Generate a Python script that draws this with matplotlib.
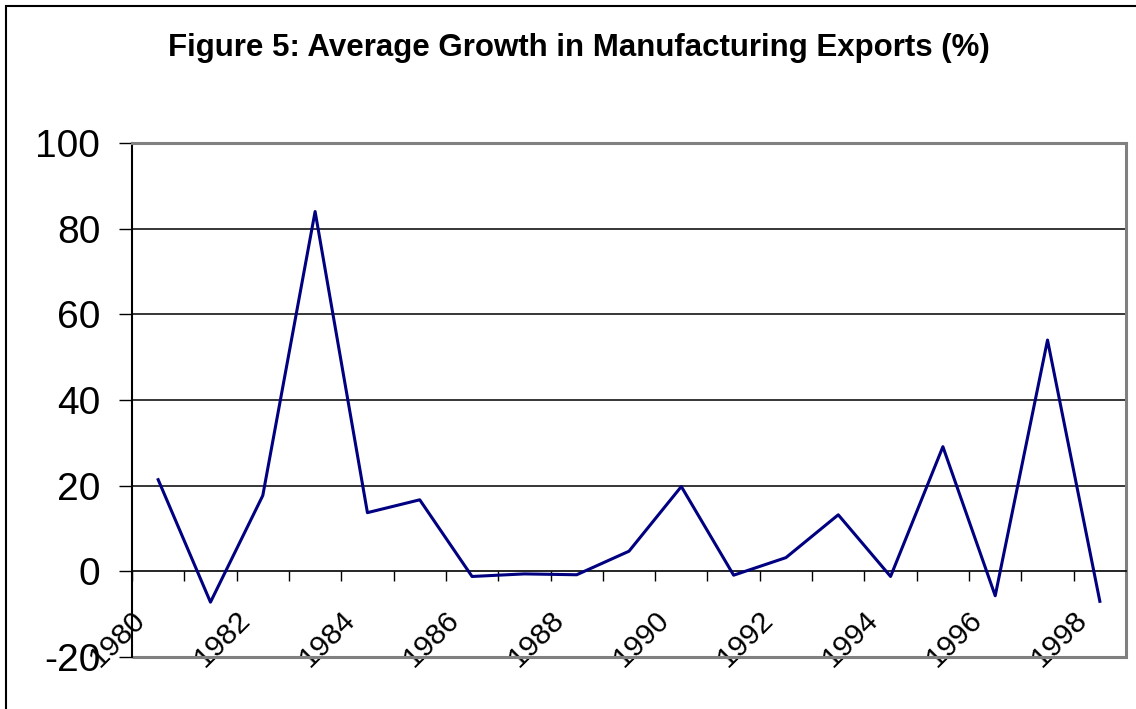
import numpy as np
import matplotlib.pyplot as plt
from matplotlib.patches import Rectangle
from matplotlib.transforms import ScaledTranslation

plt.rcParams["font.family"] = ["Liberation Sans", "DejaVu Sans"]

# =====================================================
# DATA
# =====================================================

years = list(range(1980, 1999))
growth = [21.4, -7.2, 17.7, 84.0, 13.7, 16.7, -1.2, -0.6, -0.8, 4.7,
          19.8, -0.9, 3.2, 13.2, -1.2, 29.1, -5.7, 54.0, -7.0]
y_ticks = [-20, 0, 20, 40, 60, 80, 100]
label_years = years[::2]

# =====================================================
# FIGURE
# =====================================================

W, H, DPI = 1136, 709, 100
fig = plt.figure(figsize=(W / DPI, H / DPI), dpi=DPI)

# chart-area border (right and bottom edges run off the page)
fig.patches.append(
    Rectangle(
        (6 / W, -0.1),
        1.2,
        (H - 6) / H + 0.1,
        transform=fig.transFigure,
        fill=False,
        edgecolor="black",
        linewidth=1.5,
    )
)

ax = fig.add_axes([132 / W, (H - 657) / H, (1126 - 132) / W, (657 - 143) / H])

n = len(years)
x = np.arange(n) + 0.5

ax.plot(x, growth, color="#000080", linewidth=2.2, zorder=4, clip_on=False)

ax.set_xlim(0, n)
ax.set_ylim(-20, 100)

# gridlines
for v in y_ticks[2:-1]:
    ax.axhline(v, color="black", linewidth=1.1, zorder=1)

# plot-area frame in grey
for side in ["top", "right"]:
    ax.spines[side].set_color("#808080")
    ax.spines[side].set_linewidth(2.2)
ax.add_patch(
    Rectangle((0, 0), 1, 0, transform=ax.transAxes, fill=False,
              edgecolor="#808080", linewidth=2.2, clip_on=False, zorder=2)
)

ax.spines["left"].set_color("black")
ax.spines["left"].set_linewidth(1.5)
ax.spines["bottom"].set_position(("data", 0))
ax.spines["bottom"].set_color("black")
ax.spines["bottom"].set_linewidth(1.2)
ax.spines["bottom"].set_zorder(3)

# value axis
ax.set_yticks(y_ticks)
ax.set_yticklabels([str(v) for v in y_ticks])
ax.tick_params(axis="y", direction="out", length=9.4, width=1.0,
               pad=13.5, labelsize=28)

# category axis: ticks between categories, labels every other year
ax.set_xticks(np.arange(n + 1))
ax.set_xticklabels([])
ax.tick_params(axis="x", which="major", direction="out", length=7.2,
               width=1.0)
ax.set_xticks([years.index(y) + 0.5 for y in label_years], minor=True)
ax.set_xticklabels([str(y) for y in label_years], minor=True)
ax.tick_params(axis="x", which="minor", length=0, pad=25, labelsize=21.5)

shift = ScaledTranslation(-7 / DPI, 0, fig.dpi_scale_trans)
for lbl in ax.get_xticklabels(minor=True):
    lbl.set_rotation(45)
    lbl.set_ha("right")
    lbl.set_transform(lbl.get_transform() + shift)

fig.text(
    579 / W,
    1 - 48 / H,
    "Figure 5: Average Growth in Manufacturing Exports (%)",
    ha="center",
    va="center",
    fontsize=22.5,
    fontweight="bold",
)

fig.savefig("out.png", dpi=DPI)
